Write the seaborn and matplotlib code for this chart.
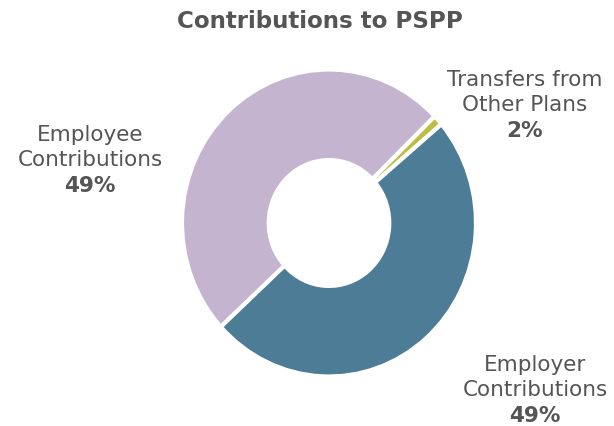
import matplotlib
matplotlib.use("Agg")
import matplotlib.pyplot as plt
import seaborn as sns

categories = ["Employee\nContributions", "Transfers from\nOther Plans", "Employer\nContributions"]
values = [49.6, 1.1, 49.3]
pct_labels = ["49%", "2%", "49%"]
colors = ["#C5B4CF", "#BDBD45", "#4D7C96"]

sns.set_theme(style="white")
plt.rcParams['font.family'] = ['DejaVu Sans']

W, H = 614, 427
fig = plt.figure(figsize=(W / 100, H / 100), dpi=100)
ax = fig.add_axes([0, 0, 1, 1])

cx, cy, Rx, Ry = 329, 224, 147, 153.5
ax.pie(values, colors=sns.color_palette(colors), startangle=222.6, counterclock=False,
       radius=1, wedgeprops=dict(width=0.59, edgecolor="white", linewidth=3))
ax.set_xlim(-cx / Rx, (W - cx) / Rx)
ax.set_ylim(-(H - cy) / Ry, cy / Ry)
ax.set_aspect("auto")
ax.axis("off")

gray = "#555555"
fig.text(320 / W, 1 - 22 / H, "Contributions to PSPP", ha="center", va="center",
         fontsize=16.6, fontweight="bold", color=gray)

label_pos = [(90, 135), (525, 80), (535, 365)]
for (x, y), cat, p in zip(label_pos, categories, pct_labels):
    lines = cat.split("\n")
    for i, ln in enumerate(lines):
        fig.text(x / W, 1 - (y + i * 25.5) / H, ln, ha="center", va="center",
                 fontsize=15.5, color=gray)
    fig.text(x / W, 1 - (y + len(lines) * 25.5) / H, p, ha="center", va="center",
             fontsize=15.5, fontweight="bold", color=gray)

fig.savefig("out.png", dpi=100)
